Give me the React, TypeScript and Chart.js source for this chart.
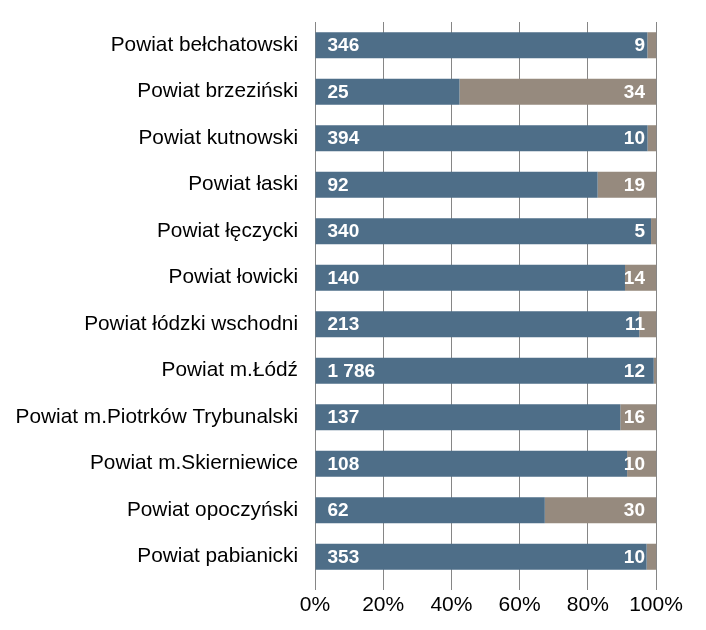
import React, { useEffect, useRef } from "react";
import { Chart, registerables } from "chart.js";

Chart.register(...registerables);

const categories = [
  "Powiat bełchatowski",
  "Powiat brzeziński",
  "Powiat kutnowski",
  "Powiat łaski",
  "Powiat łęczycki",
  "Powiat łowicki",
  "Powiat łódzki wschodni",
  "Powiat m.Łódź",
  "Powiat m.Piotrków Trybunalski",
  "Powiat m.Skierniewice",
  "Powiat opoczyński",
  "Powiat pabianicki",
];
const seriesA = [346, 25, 394, 92, 340, 140, 213, 1786, 137, 108, 62, 353];
const seriesB = [9, 34, 10, 19, 5, 14, 11, 12, 16, 10, 30, 10];
const xTicks = [0, 20, 40, 60, 80, 100];

const fmt = (v: number) => String(v).replace(/\B(?=(\d{3})+(?!\d))/g, " ");

const labelPlugin = {
  id: "barLabels",
  afterDatasetsDraw(chart: any) {
    const ctx = chart.ctx;
    ctx.save();
    ctx.fillStyle = "#ffffff";
    ctx.font = "bold 19px 'Liberation Sans', Arial, sans-serif";
    ctx.textBaseline = "middle";
    chart.data.datasets.forEach((ds: any, di: number) => {
      const meta = chart.getDatasetMeta(di);
      meta.data.forEach((el: any, i: number) => {
        const raw = ds.rawValues[i];
        const base = Math.min(el.base, el.x);
        const end = Math.max(el.base, el.x);
        if (di === 0) {
          ctx.textAlign = "left";
          ctx.fillText(fmt(raw), base + 12, el.y + 1);
        } else {
          ctx.textAlign = "right";
          ctx.fillText(fmt(raw), end - 11, el.y + 1);
        }
      });
    });
    ctx.restore();
  },
};

export default function App() {
  const ref = useRef<HTMLCanvasElement>(null);
  useEffect(() => {
    const totals = seriesA.map((a, i) => a + seriesB[i]);
    const chart = new Chart(ref.current!, {
      type: "bar",
      data: {
        labels: categories,
        datasets: [
          {
            label: "A",
            data: seriesA.map((v, i) => (v / totals[i]) * 100),
            rawValues: seriesA,
            backgroundColor: "#4E6E88",
            categoryPercentage: 1,
            barPercentage: 0.56,
          } as any,
          {
            label: "B",
            data: seriesB.map((v, i) => (v / totals[i]) * 100),
            rawValues: seriesB,
            backgroundColor: "#968A7E",
            categoryPercentage: 1,
            barPercentage: 0.56,
          } as any,
        ],
      },
      options: {
        indexAxis: "y",
        animation: false,
        responsive: false,
        maintainAspectRatio: false,
        layout: { padding: { top: 22, right: 50, left: 0, bottom: 0 } },
        plugins: { legend: { display: false }, tooltip: { enabled: false } },
        scales: {
          x: {
            stacked: true,
            min: 0,
            max: 100,
            afterBuildTicks: (s: any) => {
              s.ticks = xTicks.map((v) => ({ value: v }));
            },
            afterFit: (s: any) => {
              s.height = 50;
            },
            grid: { color: "#868686", lineWidth: 1, drawTicks: true, tickLength: 10 },
            border: { display: false },
            ticks: {
              color: "#000",
              font: { family: "'Liberation Sans', Arial, sans-serif", size: 21 },
              padding: 3,
              maxRotation: 0,
              callback: (v: any) => v + "%",
            },
          },
          y: {
            stacked: true,
            afterFit: (s: any) => {
              s.width = 315;
              s.paddingTop = 0;
              s.paddingBottom = 0;
            },
            grid: { display: false, drawTicks: false },
            border: { display: false },
            ticks: {
              color: "#000",
              font: { family: "'Liberation Sans', Arial, sans-serif", size: 20.8 },
              padding: 17,
            },
          },
        },
      },
      plugins: [labelPlugin],
    } as any);
    return () => chart.destroy();
  }, []);
  return (
    <div style={{ position: "absolute", left: 0, top: 0, width: 706, height: 630, background: "#fff" }}>
      <canvas ref={ref} width={706} height={630} />
    </div>
  );
}
